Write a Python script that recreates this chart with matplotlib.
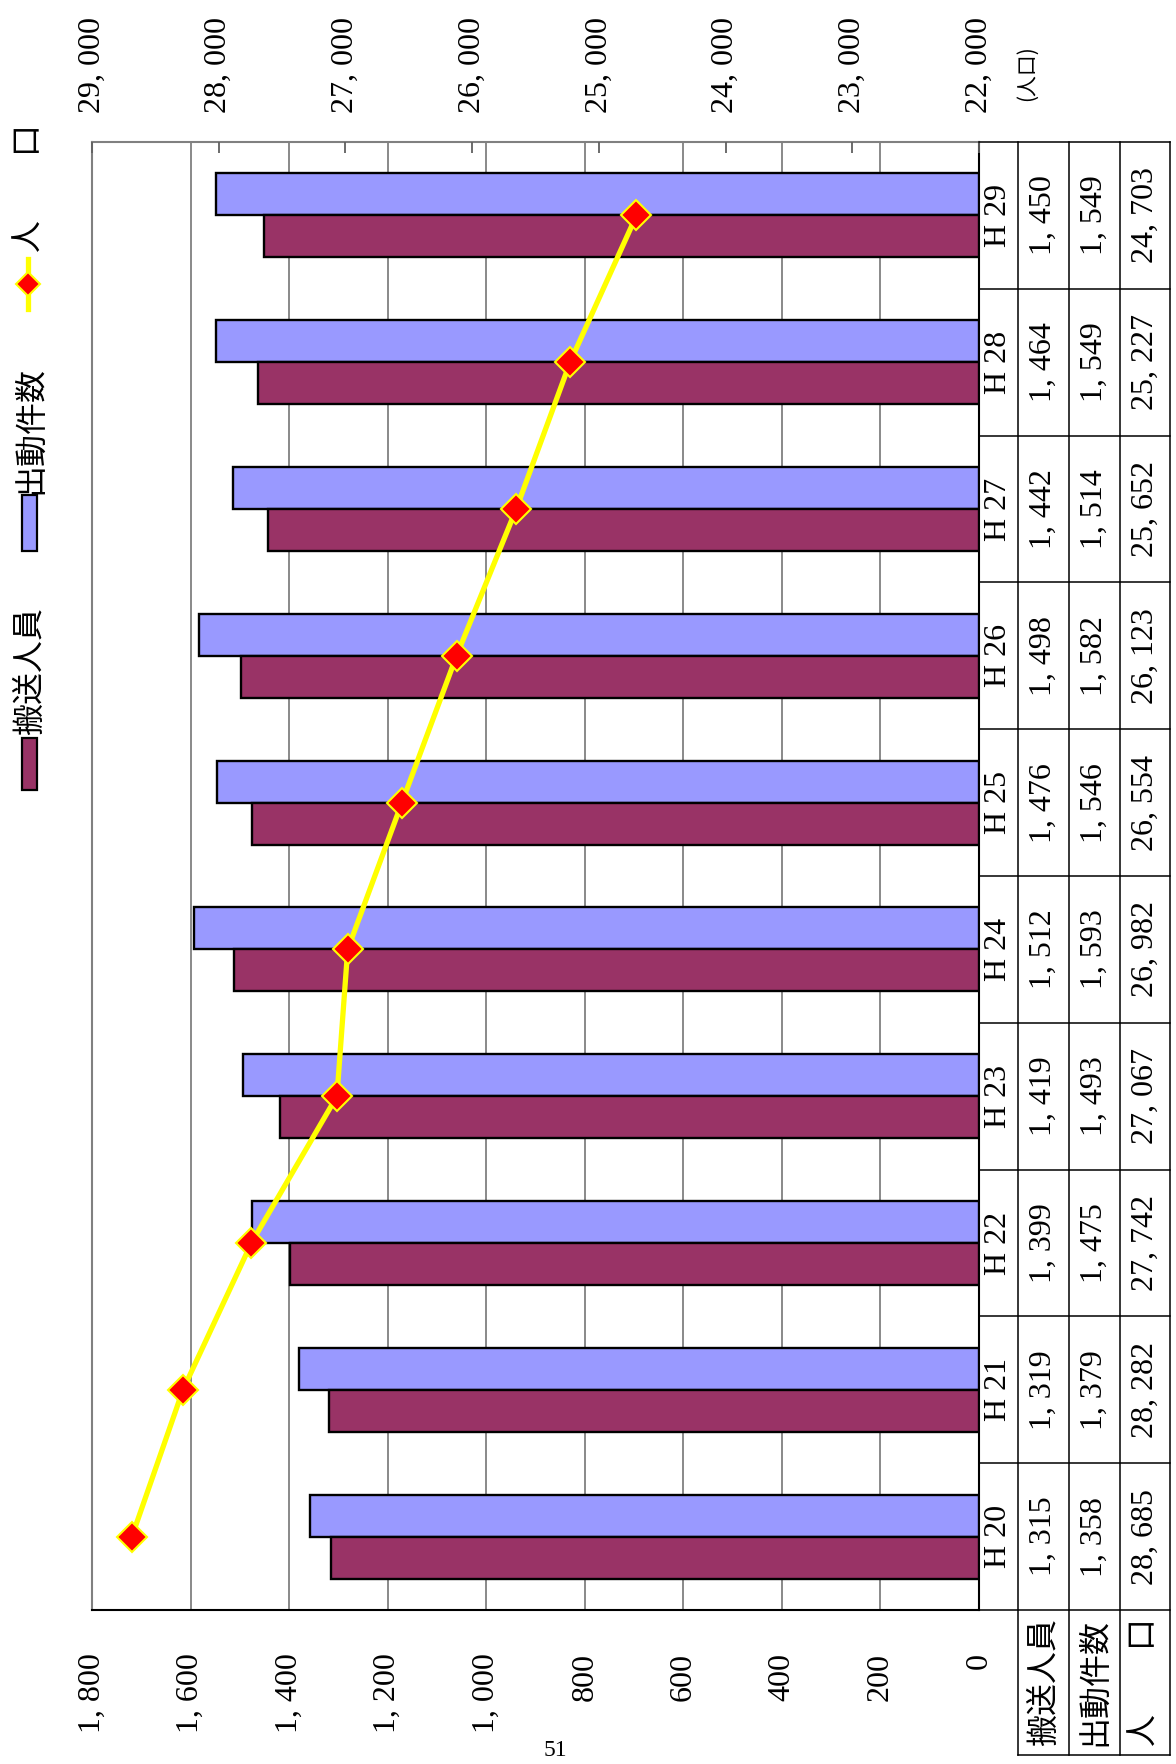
import numpy as np
import matplotlib.pyplot as plt
from matplotlib.patches import Rectangle
from matplotlib.lines import Line2D

# data (H20 .. H29)
years = ['H 20', 'H 21', 'H 22', 'H 23', 'H 24', 'H 25', 'H 26', 'H 27', 'H 28', 'H 29']
transport = [1315, 1319, 1399, 1419, 1512, 1476, 1498, 1442, 1464, 1450]
dispatch = [1358, 1379, 1475, 1493, 1593, 1546, 1582, 1514, 1549, 1549]
population = [28685, 28282, 27742, 27067, 26982, 26554, 26123, 25652, 25227, 24703]
row_names = ['搬送人員', '出動件数', '人　　口']

MAROON = '#993366'
BLUE = '#9999FF'
CJK = ['Noto Sans CJK JP', 'DejaVu Sans']
NUM = 'Liberation Serif'

W, H = 1176, 1764
fig = plt.figure(figsize=(W / 100, H / 100), dpi=100)


def fx(px):
    return px / W


def fy(py):
    return 1 - py / H


def fmt(v):
    return f'{v:,}'.replace(',', ', ')


left, right, top, bottom = 92, 979, 142, 1610
ax = fig.add_axes([fx(left), fy(bottom), fx(right) - fx(left), fy(top) - fy(bottom)])

y = np.arange(len(years))
h = 1 / 3.5
ax.barh(y + h / 2, dispatch, height=h, color=BLUE, edgecolor='black', lw=1.7, zorder=3)
ax.barh(y - h / 2, transport, height=h, color=MAROON, edgecolor='black', lw=1.7, zorder=3)
ax.set_xlim(1800, 0)
ax.set_ylim(-0.5, len(years) - 0.5)
ax.set_yticks([])
ticks = np.arange(0, 1801, 200)
ax.set_xticks(ticks)
ax.set_xticklabels([fmt(t) for t in ticks], rotation=90, fontsize=23, family=NUM)
ax.tick_params(axis='x', length=0, pad=31)
ax.grid(axis='x', color='#808080', lw=1.3, zorder=0)
ax.set_axisbelow(True)
for s in ['left', 'top']:
    ax.spines[s].set_color('#808080')
    ax.spines[s].set_linewidth(1.5)
for s in ['right', 'bottom']:
    ax.spines[s].set_color('black')
    ax.spines[s].set_linewidth(1.5)

ax2 = ax.twiny()
ax2.set_xlim(29000, 22000)
pt = np.arange(22000, 29001, 1000)
ax2.set_xticks(pt)
ax2.set_xticklabels([fmt(t) for t in pt], rotation=90, fontsize=23, family=NUM)
ax2.tick_params(axis='x', direction='in', length=8, width=1.3, color='#606060', pad=21)
for s in ax2.spines.values():
    s.set_visible(False)
ax2.plot(population, y, color='#FFFF00', lw=3.8, marker='D', ms=15,
         mfc='#FF0000', mec='#FFFF00', mew=1.5, zorder=5)

# data table on the right
tab = fig.add_axes([fx(right), fy(bottom), fx(1170) - fx(right), fy(top) - fy(bottom)], sharey=ax)
tab.set_xlim(0, 191)
tab.axis('off')
cols = [0, 39, 90, 141, 191]
hb = -0.5 - 145 / ((bottom - top) / len(years))
kw = dict(color='black', lw=1.1, clip_on=False)
for k in range(len(years) + 1):
    tab.plot([0, 191], [k - 0.5, k - 0.5], **kw)
tab.plot([39, 191], [hb, hb], **kw)
for c in cols[1:]:
    tab.plot([c, c], [hb, len(years) - 0.5], **kw)

for i, yr in enumerate(years):
    vals = [yr, fmt(transport[i]), fmt(dispatch[i]), fmt(population[i])]
    for j, v in enumerate(vals):
        tab.text((cols[j] + cols[j + 1]) / 2, i, v, rotation=90, ha='center', va='center',
                 fontsize=23, family=NUM)
for j, name in enumerate(row_names):
    tab.text((cols[j + 1] + cols[j + 2]) / 2, (hb - 0.5) / 2, name, rotation=90,
             ha='center', va='center', fontsize=23, family=CJK)

# legend in the left margin
fig.patches.append(Rectangle((fx(22), fy(790)), 15 / W, 52 / H, transform=fig.transFigure,
                             facecolor=MAROON, edgecolor='black', lw=1.6))
fig.text(fx(30), fy(735), '搬送人員', rotation=90, ha='center', va='bottom', fontsize=23, family=CJK)
fig.patches.append(Rectangle((fx(22), fy(551)), 15 / W, 56 / H, transform=fig.transFigure,
                             facecolor=BLUE, edgecolor='black', lw=1.6))
fig.text(fx(30), fy(494), '出動件数', rotation=90, ha='center', va='bottom', fontsize=23, family=CJK)
fig.add_artist(Line2D([fx(28), fx(28)], [fy(309), fy(259)], transform=fig.transFigure,
                      color='#FFFF00', lw=3.8))
fig.add_artist(Line2D([fx(28)], [fy(284)], transform=fig.transFigure, marker='D', ms=12,
                      mfc='#FF0000', mec='#FFFF00', mew=1.5))
fig.text(fx(30), fy(252), '人　　口', rotation=90, ha='center', va='bottom', fontsize=23, family=CJK)

fig.text(fx(1027), fy(101), '(人口)', rotation=90, ha='center', va='bottom', fontsize=15, family=CJK)
fig.text(fx(555), fy(1750), '51', ha='center', va='center', fontsize=17, family=NUM)

fig.savefig('out.png', dpi=100)
